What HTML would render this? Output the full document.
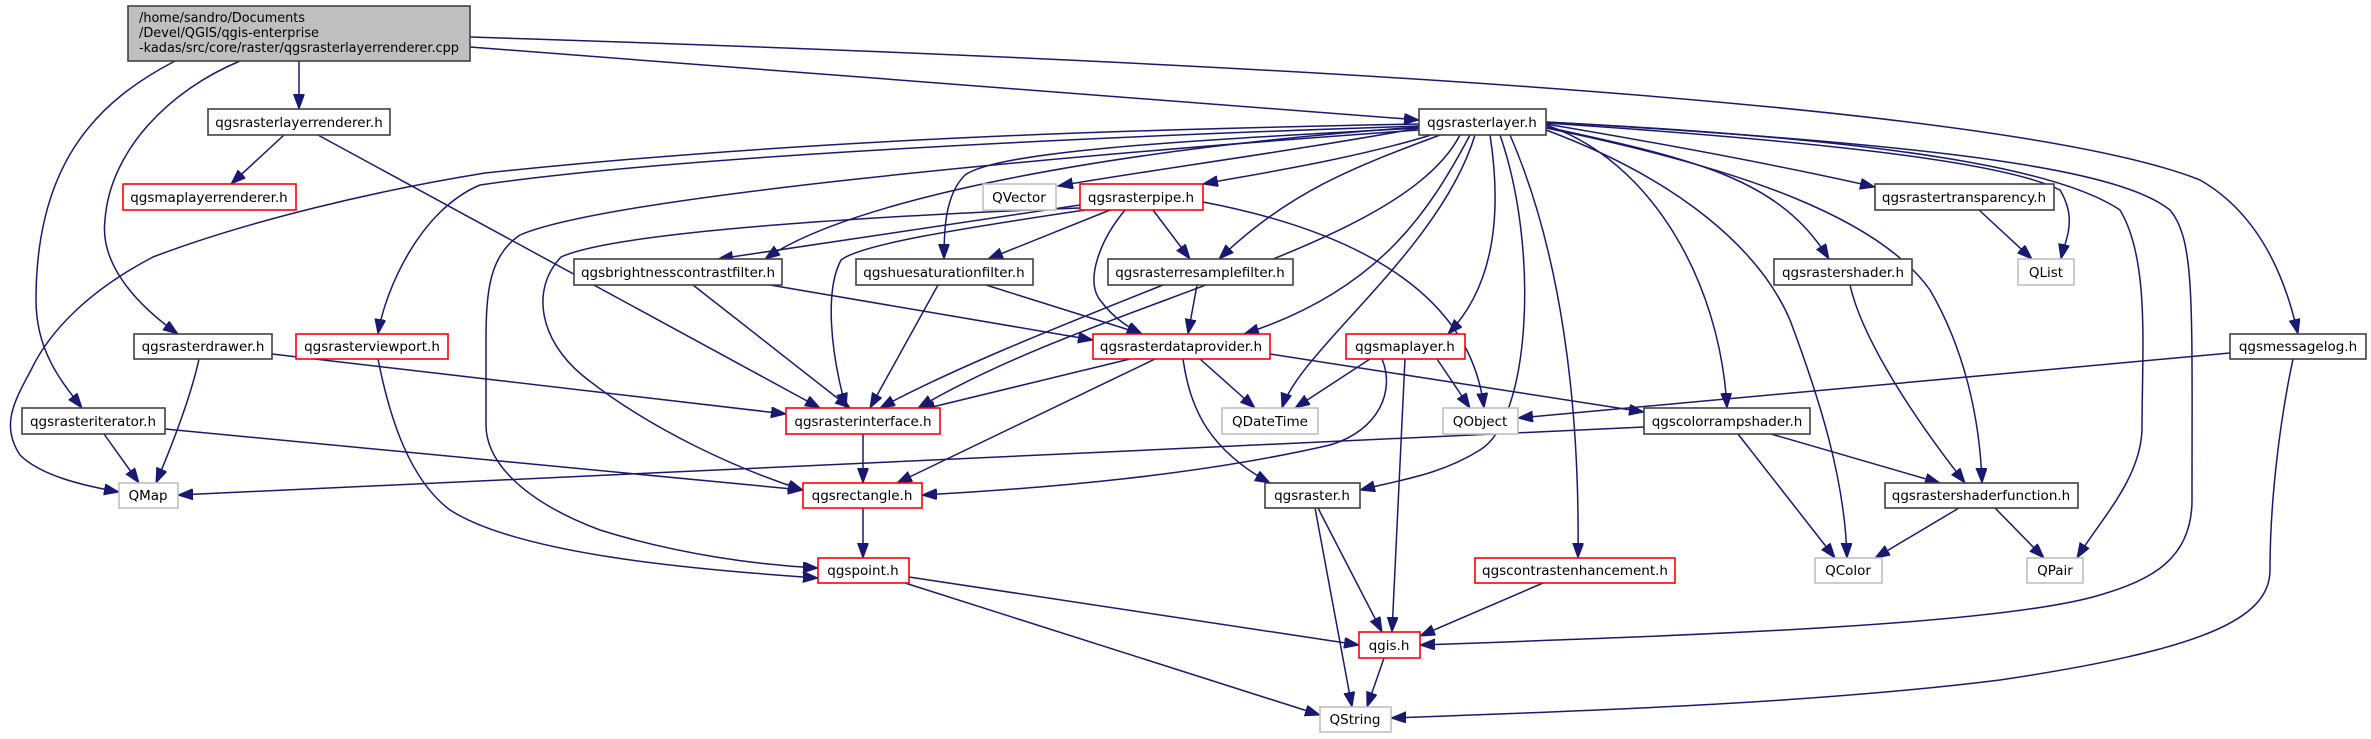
<!DOCTYPE html>
<html><head><meta charset="utf-8"><style>
html,body{margin:0;padding:0;background:#fff;}
svg{display:block}
text{font-family:"DejaVu Sans","Liberation Sans",sans-serif;font-size:13.5px;fill:#000}
.e{fill:none;stroke:#191970;stroke-width:1.5}
.nb{fill:#fff;stroke:#404040;stroke-width:1.6}
.nr{fill:#fff;stroke:#ff0000;stroke-width:1.6}
.ng{fill:#fff;stroke:#bfbfbf;stroke-width:1.6}
</style></head><body>
<svg width="2371" height="739" viewBox="0 0 2371 739" xmlns="http://www.w3.org/2000/svg">
<defs><marker id="a" markerUnits="userSpaceOnUse" markerWidth="16" markerHeight="12" refX="15" refY="5.5" orient="auto"><path d="M0,0 L15,5.5 L0,11 z" fill="#191970" stroke="#191970"/></marker></defs>
<g class="e" marker-end="url(#a)">
<path d="M299,61 L299,109"/>
<path d="M470,47 L1419,120"/>
<path d="M470,37 C1200,60 2000,100 2200,180 C2270,220 2290,300 2298,334"/>
<path d="M240,61 C170,90 110,150 105,220 C100,260 130,300 178,334"/>
<path d="M175,61 C100,100 36,160 36,300 C36,350 60,380 82,408"/>
<path d="M284,135 L231,184"/>
<path d="M318,135 L820,408"/>
<path d="M199,359 C190,400 170,450 156,483"/>
<path d="M272,354 L786,414"/>
<path d="M104,434 L139,483"/>
<path d="M165,429 L803,490"/>
<path d="M378,359 C390,420 410,480 450,510 C520,555 700,570 818,578"/>
<path d="M1419,128 C1300,150 1150,170 1058,186"/>
<path d="M1431,135 C1350,160 1250,175 1203,184"/>
<path d="M1419,127 C1100,150 850,200 765,259"/>
<path d="M1419,128 C1200,140 1000,150 965,175 C945,195 944,230 944,259"/>
<path d="M1440,135 C1360,165 1290,190 1219,259"/>
<path d="M1470,135 C1430,210 1380,290 1244,334"/>
<path d="M1460,135 C1400,250 1100,300 918,408"/>
<path d="M1475,135 C1440,250 1300,350 1282,408"/>
<path d="M1490,135 C1500,200 1500,280 1448,334"/>
<path d="M1500,135 C1540,250 1530,420 1480,450 C1440,475 1400,480 1360,490"/>
<path d="M1510,135 C1560,250 1580,400 1578,558"/>
<path d="M1546,125 C1650,160 1720,280 1727,408"/>
<path d="M1546,127 C1700,160 1780,180 1829,259"/>
<path d="M1546,124 C1700,150 1800,170 1875,187"/>
<path d="M1546,123 C1800,140 2000,160 2060,190 C2078,220 2065,240 2061,259"/>
<path d="M1546,122 C1900,140 2060,170 2120,210 C2150,260 2142,350 2142,430 C2140,480 2100,520 2077,558"/>
<path d="M1546,122 C1950,145 2120,170 2170,210 C2195,240 2192,300 2192,500 C2192,560 2150,580 2100,595 C2000,625 1700,635 1420,645"/>
<path d="M1546,130 C1680,180 1760,250 1790,320 C1820,400 1845,480 1847,558"/>
<path d="M1546,128 C1750,170 1880,220 1930,290 C1965,350 1980,420 1982,483"/>
<path d="M1419,124 C1100,130 800,140 485,173 C380,190 250,220 153,257 C90,290 50,330 31,370 C15,400 0,425 20,455 C40,475 80,485 119,492"/>
<path d="M1419,126 C1000,140 650,160 480,185 C420,210 385,290 378,334"/>
<path d="M1419,130 C1000,160 600,200 520,235 C490,255 486,290 486,340 L486,425 C486,460 520,500 600,530 C680,555 760,565 818,568"/>
<path d="M1080,208 C900,215 620,230 561,257 C530,290 540,340 582,375 C650,430 740,470 803,490"/>
<path d="M1085,210 C950,230 860,245 841,260 C825,290 830,350 846,408"/>
<path d="M1080,205 L718,259"/>
<path d="M1110,210 C1060,230 1010,250 988,259"/>
<path d="M1153,210 L1190,259"/>
<path d="M1125,210 C1100,240 1085,280 1100,300 C1115,320 1130,328 1142,334"/>
<path d="M1203,202 C1350,230 1470,290 1484,408"/>
<path d="M693,285 L850,408"/>
<path d="M770,285 L1093,340"/>
<path d="M938,285 L870,408"/>
<path d="M986,285 L1142,334"/>
<path d="M1163,285 C1050,330 950,370 880,408"/>
<path d="M1197,285 L1188,334"/>
<path d="M1130,359 L920,410"/>
<path d="M1155,359 L897,483"/>
<path d="M1200,359 L1255,408"/>
<path d="M1183,359 C1190,410 1210,450 1270,483"/>
<path d="M1270,354 L1644,412"/>
<path d="M1370,359 L1295,408"/>
<path d="M1437,359 L1470,408"/>
<path d="M1382,359 C1395,390 1380,430 1330,445 C1200,475 1050,488 922,495"/>
<path d="M1405,359 L1392,632"/>
<path d="M863,434 L863,483"/>
<path d="M863,508 L863,558"/>
<path d="M909,577 L1359,645"/>
<path d="M905,583 L1320,715"/>
<path d="M1318,508 L1382,632"/>
<path d="M1315,508 L1352,707"/>
<path d="M1384,658 L1367,707"/>
<path d="M1543,583 L1420,636"/>
<path d="M2230,353 L1518,418"/>
<path d="M2293,359 C2280,420 2270,500 2270,570 C2270,620 2200,650 2000,680 C1800,705 1550,712 1391,718"/>
<path d="M1644,427 L178,495"/>
<path d="M1738,434 L1835,558"/>
<path d="M1771,434 L1940,483"/>
<path d="M1850,285 C1860,330 1900,400 1965,483"/>
<path d="M1959,508 L1875,558"/>
<path d="M1995,508 L2044,558"/>
<path d="M1979,210 L2032,259"/>
</g>
<rect x="128" y="6" width="342" height="55" fill="#bfbfbf" stroke="#404040" stroke-width="1.6"/>
<text x="139" y="22" textLength="166" lengthAdjust="spacingAndGlyphs">/home/sandro/Documents</text>
<text x="139" y="37" textLength="180" lengthAdjust="spacingAndGlyphs">/Devel/QGIS/qgis-enterprise</text>
<text x="139" y="52" textLength="320" lengthAdjust="spacingAndGlyphs">-kadas/src/core/raster/qgsrasterlayerrenderer.cpp</text>
<g>
<rect class="nb" x="208" y="109" width="182" height="26"/><text x="299" y="127" text-anchor="middle">qgsrasterlayerrenderer.h</text>
<rect class="nr" x="123" y="184" width="173" height="26"/><text x="209" y="202" text-anchor="middle">qgsmaplayerrenderer.h</text>
<rect class="nb" x="574" y="259" width="208" height="26"/><text x="678" y="277" text-anchor="middle">qgsbrightnesscontrastfilter.h</text>
<rect class="nb" x="134" y="334" width="138" height="25"/><text x="203" y="351" text-anchor="middle">qgsrasterdrawer.h</text>
<rect class="nr" x="296" y="334" width="152" height="25"/><text x="372" y="351" text-anchor="middle">qgsrasterviewport.h</text>
<rect class="nb" x="22" y="408" width="143" height="26"/><text x="93" y="426" text-anchor="middle">qgsrasteriterator.h</text>
<rect class="ng" x="119" y="483" width="59" height="25"/><text x="148" y="500" text-anchor="middle">QMap</text>
<rect class="nb" x="1419" y="109" width="127" height="26"/><text x="1482" y="127" text-anchor="middle">qgsrasterlayer.h</text>
<rect class="ng" x="983" y="184" width="73" height="26"/><text x="1019" y="202" text-anchor="middle">QVector</text>
<rect class="nr" x="1080" y="184" width="123" height="26"/><text x="1141" y="202" text-anchor="middle">qgsrasterpipe.h</text>
<rect class="nb" x="856" y="259" width="177" height="26"/><text x="944" y="277" text-anchor="middle">qgshuesaturationfilter.h</text>
<rect class="nb" x="1108" y="259" width="185" height="26"/><text x="1200" y="277" text-anchor="middle">qgsrasterresamplefilter.h</text>
<rect class="nr" x="1093" y="334" width="177" height="25"/><text x="1181" y="351" text-anchor="middle">qgsrasterdataprovider.h</text>
<rect class="nr" x="1346" y="334" width="119" height="25"/><text x="1405" y="351" text-anchor="middle">qgsmaplayer.h</text>
<rect class="nr" x="786" y="408" width="154" height="26"/><text x="863" y="426" text-anchor="middle">qgsrasterinterface.h</text>
<rect class="ng" x="1222" y="408" width="96" height="26"/><text x="1270" y="426" text-anchor="middle">QDateTime</text>
<rect class="ng" x="1443" y="408" width="75" height="26"/><text x="1480" y="426" text-anchor="middle">QObject</text>
<rect class="nr" x="803" y="483" width="119" height="25"/><text x="862" y="500" text-anchor="middle">qgsrectangle.h</text>
<rect class="nb" x="1265" y="483" width="95" height="25"/><text x="1312" y="500" text-anchor="middle">qgsraster.h</text>
<rect class="nr" x="818" y="558" width="91" height="25"/><text x="863" y="575" text-anchor="middle">qgspoint.h</text>
<rect class="nr" x="1475" y="558" width="200" height="25"/><text x="1575" y="575" text-anchor="middle">qgscontrastenhancement.h</text>
<rect class="nr" x="1359" y="632" width="61" height="26"/><text x="1389" y="650" text-anchor="middle">qgis.h</text>
<rect class="ng" x="1320" y="707" width="71" height="25"/><text x="1355" y="724" text-anchor="middle">QString</text>
<rect class="nb" x="1875" y="184" width="179" height="26"/><text x="1964" y="202" text-anchor="middle">qgsrastertransparency.h</text>
<rect class="nb" x="1774" y="259" width="138" height="26"/><text x="1843" y="277" text-anchor="middle">qgsrastershader.h</text>
<rect class="ng" x="2018" y="259" width="56" height="26"/><text x="2046" y="277" text-anchor="middle">QList</text>
<rect class="nb" x="2230" y="334" width="136" height="25"/><text x="2298" y="351" text-anchor="middle">qgsmessagelog.h</text>
<rect class="nb" x="1644" y="408" width="166" height="26"/><text x="1727" y="426" text-anchor="middle">qgscolorrampshader.h</text>
<rect class="nb" x="1885" y="483" width="193" height="25"/><text x="1981" y="500" text-anchor="middle">qgsrastershaderfunction.h</text>
<rect class="ng" x="1815" y="558" width="67" height="25"/><text x="1848" y="575" text-anchor="middle">QColor</text>
<rect class="ng" x="2027" y="558" width="56" height="25"/><text x="2055" y="575" text-anchor="middle">QPair</text>
</g>
</svg>
</body></html>
